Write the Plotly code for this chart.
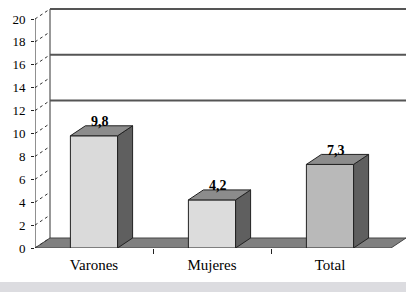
import plotly.graph_objects as go

categories = ["Varones", "Mujeres", "Total"]
values = [9.8, 4.2, 7.3]
value_labels = ["9,8", "4,2", "7,3"]
y_ticks = [0, 2, 4, 6, 8, 10, 12, 14, 16, 18, 20]
back_grid = [12, 16, 20]

front_colors = ["#dadada", "#dcdcdc", "#b9b9b9"]
top_color = "#8c8c8c"
side_color = "#5f5f5f"
floor_color = "#808080"

# depth offsets (in data units) for the pseudo-3D look
PXU = 11.45
DX = 15 / 118
DY = 10 / PXU
BW = 0.4
XMIN, XMAX = -0.5, -0.5 + 371 / 118
YMAX = 240 / PXU

xs = list(range(len(categories)))

fig = go.Figure()
fig.add_trace(go.Bar(
    x=xs, y=values, width=BW,
    marker=dict(color=front_colors, line=dict(color="#222", width=1)),
    hoverinfo="skip", showlegend=False,
))

shapes = []
# floor
shapes.append(dict(type="path", xref="x", yref="y", layer="below",
                   path=f"M {XMIN} 0 L {XMIN+DX} {DY} L {XMAX} {DY} L {XMAX-DX} 0 Z",
                   fillcolor=floor_color, line=dict(color="#444", width=1)))
# back wall left edge
shapes.append(dict(type="line", xref="x", yref="y", layer="below",
                   x0=XMIN + DX, x1=XMIN + DX, y0=DY, y1=max(y_ticks) + DY,
                   line=dict(color="#333", width=1)))
# back grid lines
for g in back_grid:
    shapes.append(dict(type="line", xref="x", yref="y", layer="below",
                       x0=XMIN + DX, x1=XMAX, y0=g + DY, y1=g + DY,
                       line=dict(color="#555", width=2)))
# side wall dotted diagonals
for t in y_ticks:
    shapes.append(dict(type="line", xref="x", yref="y", layer="below",
                       x0=XMIN, x1=XMIN + DX, y0=t, y1=t + DY,
                       line=dict(color="#333", width=1, dash="dot")))
# y-axis line (0..20)
shapes.append(dict(type="line", xref="x", yref="y",
                   x0=XMIN, x1=XMIN, y0=0, y1=max(y_ticks),
                   line=dict(color="#222", width=1)))
# 3D bar faces
for x, v in zip(xs, values):
    l, r = x - BW / 2, x + BW / 2
    shapes.append(dict(type="path", xref="x", yref="y",
                       path=f"M {r} 0 L {r+DX} {DY} L {r+DX} {v+DY} L {r} {v} Z",
                       fillcolor=side_color, line=dict(color="#222", width=1)))
    shapes.append(dict(type="path", xref="x", yref="y",
                       path=f"M {l} {v} L {l+DX} {v+DY} L {r+DX} {v+DY} L {r} {v} Z",
                       fillcolor=top_color, line=dict(color="#222", width=1)))
# bottom band
shapes.append(dict(type="rect", xref="paper", yref="paper",
                   x0=-0.2, x1=1.2, y0=-34 / 240, y1=-50 / 240,
                   fillcolor="#dcdce0", line=dict(width=0), layer="above"))

annotations = []
for x, v, lab in zip(xs, values, value_labels):
    annotations.append(dict(x=x + 0.05, y=v + DY + 4 / PXU, text=f"<b>{lab}</b>",
                            showarrow=False, yanchor="middle",
                            font=dict(family="Liberation Serif", size=14, color="#000")))

fig.update_layout(
    width=406, height=292,
    margin=dict(l=35, r=0, t=8, b=44, autoexpand=False),
    paper_bgcolor="white", plot_bgcolor="white",
    shapes=shapes, annotations=annotations,
    font=dict(family="Liberation Serif", size=12, color="#000"),
    xaxis=dict(range=[XMIN, XMAX], tickvals=xs, ticktext=categories,
               showgrid=False, zeroline=False, showline=False, ticks="",
               ticklabelstandoff=6, automargin=False,
               tickfont=dict(family="Liberation Serif", size=15, color="#000"),
               minor=dict(tickvals=[0.5, 1.5], ticks="outside", ticklen=5,
                          tickcolor="#222", showgrid=False),
               fixedrange=True),
    yaxis=dict(range=[0, YMAX], tickvals=y_ticks, showgrid=False, zeroline=False,
               showline=False, ticks="outside", ticklen=3, tickcolor="#222",
               automargin=False, ticklabelstandoff=3,
               tickfont=dict(family="Liberation Serif", size=13, color="#000"),
               fixedrange=True),
    bargap=0.6,
)

fig.write_html("out.html", config={"displayModeBar": False},
               post_script="document.body.style.margin='0';document.body.style.overflow='hidden';")
